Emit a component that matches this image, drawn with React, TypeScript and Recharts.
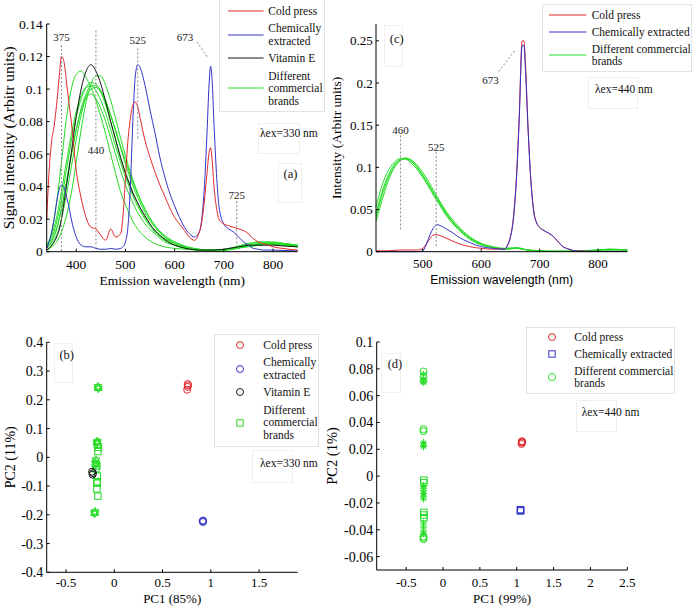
import React from "react";
import {
  LineChart,
  Line,
  ScatterChart,
  Scatter,
  XAxis,
  YAxis,
  ReferenceLine,
  ReferenceDot,
} from "recharts";

const SERIF = "'Liberation Serif', 'Times New Roman', Times, serif";
const SANS = "'Liberation Sans', Arial, sans-serif";

const RED = "#e3282c";
const BLUE = "#3232c8";
const BLACK = "#161616";
const GREEN = "#24dc24";
const DASH = "#8a8a8a";

// ---- panel (a): excitation 330 nm ----
const WL_A = [
  340, 345, 350, 355, 360, 365, 370, 375, 380, 385, 390, 400, 410, 420, 430, 440, 450, 460, 470, 480, 490, 495,
  500, 505, 510, 515, 520, 525, 530, 540, 550, 560, 570, 580, 590, 600, 610, 620, 630, 640, 650, 655, 660, 665,
  670, 673, 676, 680, 685, 690, 700, 710, 720, 730, 740, 750, 760, 770, 780, 790, 800, 820, 850,
];
const COLD_A = [
  0.02, 0.05, 0.068, 0.077, 0.09, 0.106, 0.12, 0.117, 0.105, 0.092, 0.08, 0.05, 0.033, 0.021, 0.015, 0.014, 0.01,
  0.007, 0.014, 0.009, 0.011, 0.022, 0.045, 0.068, 0.082, 0.09, 0.092, 0.089, 0.082, 0.068, 0.058, 0.049, 0.041,
  0.034, 0.027, 0.021, 0.017, 0.013, 0.009, 0.007, 0.012, 0.018, 0.03, 0.046, 0.061, 0.064, 0.057, 0.04, 0.027,
  0.02, 0.017, 0.016, 0.015, 0.014, 0.013, 0.011, 0.008, 0.006, 0.005, 0.004, 0.003, 0.002, 0.001,
];
const CHEM_A = [
  0.002, 0.006, 0.012, 0.02, 0.03, 0.038, 0.041, 0.04, 0.034, 0.028, 0.02, 0.009, 0.004, 0.003, 0.003, 0.002,
  0.0015, 0.0015, 0.002, 0.0015, 0.002, 0.003, 0.006, 0.015, 0.04, 0.08, 0.108, 0.115, 0.113, 0.102, 0.087, 0.073,
  0.058, 0.046, 0.036, 0.028, 0.021, 0.015, 0.011, 0.009, 0.012, 0.02, 0.038, 0.068, 0.103, 0.114, 0.106, 0.078,
  0.048, 0.028, 0.017, 0.014, 0.012, 0.009, 0.006, 0.004, 0.002, 0.0015, 0.001, 0.001, 0.001, 0.0008, 0.0005,
];
const VITE_A = [
  0.001, 0.002, 0.004, 0.006, 0.009, 0.013, 0.02, 0.03, 0.04, 0.05, 0.061, 0.083, 0.1, 0.111, 0.115, 0.111, 0.103,
  0.092, 0.08, 0.069, 0.058, 0.053, 0.048, 0.044, 0.04, 0.036, 0.033, 0.03, 0.027, 0.022, 0.017, 0.013, 0.01,
  0.0075, 0.0055, 0.004, 0.003, 0.0022, 0.0016, 0.0012, 0.001, 0.001, 0.001, 0.001, 0.001, 0.001, 0.001, 0.001,
  0.0011, 0.0012, 0.0015, 0.002, 0.0025, 0.003, 0.0035, 0.004, 0.004, 0.004, 0.004, 0.004, 0.004, 0.0035, 0.003,
];
const WL_AG = [
  340, 350, 360, 370, 380, 390, 400, 410, 420, 430, 440, 450, 460, 470, 480, 490, 500, 520, 540, 560, 580, 600,
  625, 650, 675, 700, 725, 750, 775, 800, 825, 850,
];
const BRANDS_A = [
  [0.004, 0.012, 0.03, 0.055, 0.082, 0.1, 0.109, 0.111, 0.107, 0.101, 0.093, 0.083, 0.072, 0.06, 0.048, 0.037, 0.029,
    0.016, 0.009, 0.005, 0.003, 0.002, 0.0015, 0.001, 0.0008, 0.001, 0.003, 0.005, 0.006, 0.0055, 0.004, 0.003],
  [0.001, 0.003, 0.006, 0.012, 0.022, 0.036, 0.055, 0.075, 0.092, 0.103, 0.108, 0.108, 0.102, 0.093, 0.082, 0.07,
    0.059, 0.04, 0.026, 0.016, 0.009, 0.005, 0.002, 0.001, 0.0005, 0.001, 0.002, 0.004, 0.005, 0.0055, 0.005, 0.004],
  [0.002, 0.006, 0.014, 0.027, 0.043, 0.06, 0.075, 0.087, 0.095, 0.097, 0.094, 0.088, 0.08, 0.07, 0.06, 0.05, 0.041,
    0.027, 0.017, 0.011, 0.006, 0.004, 0.002, 0.001, 0.001, 0.001, 0.002, 0.004, 0.005, 0.005, 0.004, 0.003],
  [0.003, 0.008, 0.018, 0.032, 0.05, 0.068, 0.083, 0.094, 0.101, 0.104, 0.103, 0.098, 0.09, 0.08, 0.069, 0.058,
    0.049, 0.033, 0.021, 0.013, 0.008, 0.005, 0.0025, 0.0012, 0.001, 0.0012, 0.0025, 0.004, 0.0045, 0.0045, 0.004, 0.003],
  [0.002, 0.006, 0.014, 0.026, 0.042, 0.059, 0.075, 0.088, 0.097, 0.102, 0.102, 0.099, 0.093, 0.084, 0.074, 0.064,
    0.054, 0.037, 0.024, 0.015, 0.009, 0.006, 0.003, 0.0015, 0.001, 0.001, 0.002, 0.0035, 0.0045, 0.005, 0.0045, 0.004],
  [0.004, 0.01, 0.021, 0.037, 0.055, 0.072, 0.086, 0.096, 0.101, 0.102, 0.099, 0.093, 0.085, 0.075, 0.065, 0.055,
    0.046, 0.031, 0.02, 0.012, 0.007, 0.004, 0.002, 0.001, 0.001, 0.0015, 0.003, 0.005, 0.006, 0.006, 0.005, 0.004],
  [0.001, 0.004, 0.01, 0.02, 0.035, 0.052, 0.069, 0.084, 0.095, 0.1, 0.101, 0.098, 0.092, 0.084, 0.075, 0.065,
    0.056, 0.039, 0.026, 0.016, 0.01, 0.006, 0.003, 0.0015, 0.001, 0.001, 0.002, 0.003, 0.004, 0.0045, 0.004, 0.0035],
];

// ---- panel (c): excitation 440 nm ----
const WL_C = [
  420, 440, 460, 470, 480, 490, 500, 505, 510, 515, 520, 525, 530, 540, 550, 560, 580, 600, 620, 640, 645, 650,
  655, 660, 665, 670, 673, 676, 680, 685, 690, 695, 700, 710, 720, 725, 730, 740, 750, 760, 780, 800, 850,
];
const COLD_C = [
  0.001, 0.001, 0.002, 0.002, 0.002, 0.002, 0.004, 0.008, 0.013, 0.018, 0.02, 0.02, 0.019, 0.016, 0.013, 0.01,
  0.006, 0.004, 0.003, 0.003, 0.008, 0.018, 0.04, 0.085, 0.16, 0.25, 0.25, 0.22, 0.15, 0.085, 0.048, 0.034, 0.029,
  0.024, 0.02, 0.017, 0.013, 0.006, 0.003, 0.001, 0.0005, 0.0003, 0.0003,
];
const CHEM_C = [
  0, 0, 0, 0, 0, 0, 0.001, 0.007, 0.016, 0.024, 0.03, 0.032, 0.031, 0.027, 0.023, 0.018, 0.011, 0.006, 0.004,
  0.003, 0.007, 0.017, 0.038, 0.082, 0.155, 0.244, 0.245, 0.212, 0.148, 0.084, 0.047, 0.034, 0.029, 0.024, 0.02,
  0.017, 0.013, 0.006, 0.003, 0.001, 0.0005, 0.0003, 0.0003,
];
const WL_CG = [
  420, 430, 440, 450, 460, 470, 480, 490, 500, 510, 520, 530, 540, 560, 580, 600, 620, 640, 660, 680, 700, 720,
  740, 760, 780, 800, 820, 850,
];
const BRANDS_C = [
  [0.053, 0.078, 0.095, 0.105, 0.11, 0.11, 0.105, 0.098, 0.088, 0.077, 0.065, 0.054, 0.043, 0.027, 0.015, 0.008,
    0.005, 0.003, 0.004, 0.002, 0.001, 0.0005, 0.0005, 0.0005, 0.001, 0.002, 0.002, 0.002],
  [0.045, 0.07, 0.089, 0.102, 0.109, 0.111, 0.108, 0.101, 0.091, 0.08, 0.068, 0.057, 0.046, 0.029, 0.017, 0.009,
    0.005, 0.003, 0.004, 0.002, 0.001, 0.0005, 0.0005, 0.0005, 0.001, 0.002, 0.003, 0.002],
  [0.036, 0.06, 0.082, 0.098, 0.107, 0.111, 0.109, 0.103, 0.094, 0.083, 0.071, 0.059, 0.048, 0.031, 0.018, 0.01,
    0.006, 0.004, 0.005, 0.002, 0.001, 0.0005, 0.0005, 0.001, 0.0015, 0.002, 0.003, 0.002],
  [0.041, 0.066, 0.086, 0.1, 0.108, 0.11, 0.107, 0.1, 0.09, 0.079, 0.067, 0.056, 0.045, 0.028, 0.016, 0.009,
    0.005, 0.003, 0.004, 0.002, 0.001, 0.0005, 0.0005, 0.0005, 0.001, 0.0015, 0.002, 0.002],
];

// ---- panel (b): PCA scores, 330 nm ----
const COLD_B = [[0.76, 0.255], [0.765, 0.25], [0.755, 0.235], [0.76, 0.245]];
const CHEM_B = [[0.92, -0.22], [0.92, -0.225], [0.915, -0.222]];
const VITE_B = [[-0.23, -0.05], [-0.225, -0.06], [-0.22, -0.055]];
const BRANDS_B_SQ = [
  [-0.165, 0.035], [-0.17, 0.02], [-0.175, 0.045], [-0.18, -0.03], [-0.19, -0.04], [-0.175, -0.065],
  [-0.18, -0.085], [-0.175, -0.09], [-0.18, -0.11], [-0.17, -0.135],
];
const BRANDS_B_STAR = [
  [-0.17, 0.245], [-0.165, 0.24], [-0.175, 0.055], [-0.18, 0.05], [-0.19, -0.01], [-0.195, -0.02],
  [-0.19, -0.025], [-0.2, -0.19], [-0.205, -0.195],
];

// ---- panel (d): PCA scores, 440 nm ----
const COLD_D = [[1.07, 0.026], [1.07, 0.025], [1.065, 0.024], [1.075, 0.0255]];
const CHEM_D = [[1.05, -0.025], [1.05, -0.026], [1.055, -0.0255]];
const BRANDS_D_CIRCLE = [
  [-0.265, 0.078], [-0.265, 0.074], [-0.265, 0.071], [-0.265, 0.035], [-0.265, 0.0335], [-0.265, -0.045],
  [-0.265, -0.046], [-0.265, -0.047],
];
const BRANDS_D_SQ = [[-0.26, -0.003], [-0.26, -0.005], [-0.26, -0.027], [-0.26, -0.029], [-0.26, -0.031]];
const BRANDS_D_AST = [
  [-0.265, 0.076], [-0.265, 0.072], [-0.265, 0.07], [-0.265, 0.025], [-0.265, 0.023], [-0.265, 0.022],
  [-0.265, -0.007], [-0.265, -0.009], [-0.265, -0.011], [-0.265, -0.013], [-0.265, -0.015], [-0.265, -0.017],
  [-0.265, -0.035], [-0.265, -0.038], [-0.265, -0.041], [-0.265, -0.043],
];

// ticks
const A_XTICKS = [400, 500, 600, 700, 800];
const A_YTICKS = [0, 0.02, 0.04, 0.06, 0.08, 0.1, 0.12, 0.14];
const C_XTICKS = [500, 600, 700, 800];
const C_YTICKS = [0, 0.05, 0.1, 0.15, 0.2, 0.25];
const B_XTICKS = [-0.5, 0, 0.5, 1, 1.5];
const B_YTICKS = [-0.4, -0.3, -0.2, -0.1, 0, 0.1, 0.2, 0.3, 0.4];
const D_XTICKS = [-0.5, 0, 0.5, 1, 1.5, 2, 2.5];
const D_YTICKS = [-0.06, -0.04, -0.02, 0, 0.02, 0.04, 0.06, 0.08, 0.1];

// peak annotations: label text + position in data units, guide segments [x1, y1, x2, y2]
const A_NOTES = [
  { text: "375", x: 370, y: 0.1322 },
  { text: "440", x: 440, y: 0.0626 },
  { text: "525", x: 525, y: 0.13 },
  { text: "673", x: 621, y: 0.132 },
  { text: "725", x: 726, y: 0.0349 },
];
const A_GUIDES = [
  [370, 0.127, 370, 0],
  [440, 0.136, 440, 0.067],
  [440, 0.05, 440, 0.0023],
  [525, 0.125, 525, 0.0687],
  [645, 0.129, 668, 0.119],
  [726, 0.031, 726, 0.003],
];
const C_NOTES = [
  { text: "460", x: 462, y: 0.1445 },
  { text: "525", x: 523, y: 0.124 },
  { text: "673", x: 616, y: 0.204 },
];
const C_GUIDES = [
  [462, 0.1378, 462, 0.0265],
  [523, 0.118, 523, 0.006],
  [630, 0.2137, 659, 0.24],
];

const zip = (xs: number[], ys: number[]) => xs.map((x, i) => ({ x, y: ys[i] }));
const pairs = (arr: number[][]) => arr.map(([x, y]) => ({ x, y }));

const axisStyle = (fontSize: number, family = SERIF) => ({
  axisLine: { stroke: "#000" },
  tickLine: { stroke: "#000" },
  tickSize: -3,
  tick: { fontSize, fill: "#000", fontFamily: family },
});

const circleShape = (color: string) => (p: any) => (
  <circle cx={p.cx} cy={p.cy} r={3.5} fill="none" stroke={color} strokeWidth={1} />
);
const squareShape = (color: string) => (p: any) => (
  <rect x={p.cx - 3.2} y={p.cy - 3.2} width={6.4} height={6.4} fill="none" stroke={color} strokeWidth={1} />
);
const asteriskShape = (color: string) => (p: any) => (
  <path
    d={`M${p.cx - 3.5},${p.cy}h7M${p.cx},${p.cy - 3.5}v7M${p.cx - 2.5},${p.cy - 2.5}l5,5M${p.cx - 2.5},${p.cy + 2.5}l5,-5`}
    stroke={color}
    strokeWidth={1}
  />
);
const hexagramShape = (color: string) => (p: any) => (
  <g fill="none" stroke={color} strokeWidth={1}>
    <polygon points={`${p.cx},${p.cy - 4.5} ${p.cx + 3.9},${p.cy + 2.2} ${p.cx - 3.9},${p.cy + 2.2}`} />
    <polygon points={`${p.cx},${p.cy + 4.5} ${p.cx + 3.9},${p.cy - 2.2} ${p.cx - 3.9},${p.cy - 2.2}`} />
  </g>
);

type LegendItem = { lines: string[]; color: string; mark: "line" | "circle" | "square"; cy: number };

function LegendBox(props: {
  left: number;
  top: number;
  width: number;
  height: number;
  markX: number;
  markW: number;
  textX: number;
  lineH: number;
  items: LegendItem[];
}) {
  const { left, top, width, height, markX, markW, textX, lineH, items } = props;
  return (
    <>
      <div
        style={{
          position: "absolute",
          left,
          top,
          width,
          height,
          border: "1px solid #e2e2e2",
          background: "#fff",
          boxSizing: "border-box",
        }}
      />
      {items.map((it) => (
        <React.Fragment key={it.lines.join(" ")}>
          <svg
            style={{ position: "absolute", left: markX - 5, top: it.cy - 6, overflow: "visible" }}
            width={markW + 10}
            height={12}
          >
            {it.mark === "line" && <line x1={5} x2={5 + markW} y1={6} y2={6} stroke={it.color} strokeWidth={1} />}
            {it.mark === "circle" && <circle cx={5} cy={6} r={3.5} fill="none" stroke={it.color} />}
            {it.mark === "square" && <rect x={1.8} y={2.8} width={6.4} height={6.4} fill="none" stroke={it.color} />}
          </svg>
          <div
            style={{
              position: "absolute",
              left: textX,
              top: it.cy - (it.lines.length * lineH) / 2,
              fontFamily: SERIF,
              fontSize: 11.5,
              lineHeight: `${lineH}px`,
              color: "#111",
              whiteSpace: "nowrap",
            }}
          >
            {it.lines.map((l) => (
              <div key={l}>{l}</div>
            ))}
          </div>
        </React.Fragment>
      ))}
    </>
  );
}

function TextBox(props: { left: number; top: number; width: number; height: number; text: string; tx: number; ty: number; center?: boolean; size?: number }) {
  const { left, top, width, height, text, tx, ty, center, size = 11.5 } = props;
  return (
    <>
      <div
        style={{ position: "absolute", left, top, width, height, border: "1px solid #efefef", boxSizing: "border-box" }}
      />
      <div
        style={{
          position: "absolute",
          left: center ? tx - 20 : tx,
          width: center ? 40 : undefined,
          textAlign: center ? "center" : "left",
          top: ty - 8,
          lineHeight: "16px",
          fontFamily: SERIF,
          fontSize: size,
          color: "#111",
          whiteSpace: "nowrap",
        }}
      >
        {text}
      </div>
    </>
  );
}

const noteLabel = (text: string) => ({
  value: text,
  position: "center" as const,
  fontSize: 11,
  fill: "#222",
  fontFamily: SERIF,
});

export default function App() {
  return (
    <div style={{ position: "absolute", left: 0, top: 0, width: 693, height: 606, background: "#fff", overflow: "hidden" }}>
      {/* (a) */}
      <div style={{ position: "absolute", left: 0, top: 0 }}>
        <LineChart width={330} height={300} margin={{ top: 24, right: 32.3, bottom: 12.3, left: 0 }}>
          <XAxis
            type="number"
            dataKey="x"
            domain={[340, 850]}
            ticks={A_XTICKS}
            height={36}
            tickMargin={10.4}
            {...axisStyle(13.5)}
            label={{ value: "Emission wavelength (nm)", position: "insideBottom", offset: 3, fontSize: 13.5, fill: "#000", fontFamily: SERIF }}
          />
          <YAxis
            type="number"
            dataKey="y"
            domain={[0, 0.14]}
            ticks={A_YTICKS}
            width={46.7}
            tickMargin={7}
            {...axisStyle(13.5)}
            label={{ value: "Signal intensity (Arbitr units)", angle: -90, position: "insideLeft", offset: 8.3, style: { textAnchor: "middle" }, fontSize: 15.5, fill: "#000", fontFamily: SERIF }}
          />
          {BRANDS_A.map((ys, i) => (
            <Line key={"ga" + i} data={zip(WL_AG, ys)} dataKey="y" type="monotone" stroke={GREEN} strokeWidth={1} dot={false} isAnimationActive={false} />
          ))}
          <Line data={zip(WL_A, VITE_A)} dataKey="y" type="monotone" stroke={BLACK} strokeWidth={1} dot={false} isAnimationActive={false} />
          <Line data={zip(WL_A, CHEM_A)} dataKey="y" type="monotone" stroke={BLUE} strokeWidth={1} dot={false} isAnimationActive={false} />
          <Line data={zip(WL_A, COLD_A)} dataKey="y" type="monotone" stroke={RED} strokeWidth={1} dot={false} isAnimationActive={false} />
          {A_GUIDES.map((g, i) => (
            <ReferenceLine key={"gda" + i} segment={[{ x: g[0], y: g[1] }, { x: g[2], y: g[3] }]} stroke={DASH} strokeDasharray="2 2" />
          ))}
          {A_NOTES.map((n) => (
            <ReferenceDot key={"na" + n.text} x={n.x} y={n.y} r={0} fill="none" stroke="none" label={noteLabel(n.text)} />
          ))}
        </LineChart>
      </div>

      {/* (c) */}
      <div style={{ position: "absolute", left: 318, top: 0 }}>
        <LineChart width={375} height={300} margin={{ top: 24, right: 65.7, bottom: 12.3, left: 0 }}>
          <XAxis
            type="number"
            dataKey="x"
            domain={[420, 850]}
            ticks={C_XTICKS}
            height={36}
            tickMargin={10.4}
            {...axisStyle(13)}
            label={{ value: "Emission wavelength (nm)", position: "insideBottom", offset: 3.3, fontSize: 12.2, fill: "#000", fontFamily: SANS }}
          />
          <YAxis
            type="number"
            dataKey="y"
            domain={[0, 0.27]}
            ticks={C_YTICKS}
            width={58}
            tickMargin={6.3}
            {...axisStyle(13)}
            label={{ value: "Intensity (Arbitr units)", angle: -90, position: "insideLeft", offset: 18.7, style: { textAnchor: "middle" }, fontSize: 13.5, fill: "#000", fontFamily: SERIF }}
          />
          {BRANDS_C.map((ys, i) => (
            <Line key={"gc" + i} data={zip(WL_CG, ys)} dataKey="y" type="monotone" stroke={GREEN} strokeWidth={1} dot={false} isAnimationActive={false} />
          ))}
          <Line data={zip(WL_C, COLD_C)} dataKey="y" type="monotone" stroke={RED} strokeWidth={1} dot={false} isAnimationActive={false} />
          <Line data={zip(WL_C, CHEM_C)} dataKey="y" type="monotone" stroke={BLUE} strokeWidth={1} dot={false} isAnimationActive={false} />
          {C_GUIDES.map((g, i) => (
            <ReferenceLine key={"gdc" + i} segment={[{ x: g[0], y: g[1] }, { x: g[2], y: g[3] }]} stroke={DASH} strokeDasharray="2 2" />
          ))}
          {C_NOTES.map((n) => (
            <ReferenceDot key={"nc" + n.text} x={n.x} y={n.y} r={0} fill="none" stroke="none" label={noteLabel(n.text)} />
          ))}
        </LineChart>
      </div>

      {/* (b) */}
      <div style={{ position: "absolute", left: 0, top: 300 }}>
        <ScatterChart width={330} height={306} margin={{ top: 42.3, right: 32.3, bottom: 0, left: 0 }}>
          <XAxis
            type="number"
            dataKey="x"
            domain={[-0.7, 1.9]}
            ticks={B_XTICKS}
            height={33.7}
            tickMargin={8}
            {...axisStyle(13)}
            label={{ value: "PC1 (85%)", position: "insideBottom", offset: 3, fontSize: 13, fill: "#000", fontFamily: SERIF }}
          />
          <YAxis
            type="number"
            dataKey="y"
            domain={[-0.4, 0.4]}
            ticks={B_YTICKS}
            width={46.7}
            tickMargin={6.4}
            {...axisStyle(14)}
            label={{ value: "PC2 (11%)", angle: -90, position: "insideLeft", offset: 10, style: { textAnchor: "middle" }, fontSize: 14, fill: "#000", fontFamily: SERIF }}
          />
          <Scatter data={pairs(BRANDS_B_SQ)} shape={squareShape(GREEN)} isAnimationActive={false} />
          <Scatter data={pairs(BRANDS_B_STAR)} shape={hexagramShape(GREEN)} isAnimationActive={false} />
          <Scatter data={pairs(VITE_B)} shape={circleShape(BLACK)} isAnimationActive={false} />
          <Scatter data={pairs(COLD_B)} shape={circleShape(RED)} isAnimationActive={false} />
          <Scatter data={pairs(CHEM_B)} shape={circleShape(BLUE)} isAnimationActive={false} />
        </ScatterChart>
      </div>

      {/* (d) */}
      <div style={{ position: "absolute", left: 318, top: 300 }}>
        <ScatterChart width={375} height={306} margin={{ top: 42, right: 65.7, bottom: 0, left: 0 }}>
          <XAxis
            type="number"
            dataKey="x"
            domain={[-0.9, 2.5]}
            ticks={D_XTICKS}
            height={36}
            tickMargin={10.8}
            {...axisStyle(13)}
            label={{ value: "PC1 (99%)", position: "insideBottom", offset: 3, fontSize: 13, fill: "#000", fontFamily: SERIF }}
          />
          <YAxis
            type="number"
            dataKey="y"
            domain={[-0.07, 0.1]}
            ticks={D_YTICKS}
            width={58.7}
            tickMargin={6.5}
            {...axisStyle(14)}
            label={{ value: "PC2 (1%)", angle: -90, position: "insideLeft", offset: 13.7, style: { textAnchor: "middle" }, fontSize: 14.5, fill: "#000", fontFamily: SERIF }}
          />
          <Scatter data={pairs(BRANDS_D_AST)} shape={asteriskShape(GREEN)} isAnimationActive={false} />
          <Scatter data={pairs(BRANDS_D_SQ)} shape={squareShape(GREEN)} isAnimationActive={false} />
          <Scatter data={pairs(BRANDS_D_CIRCLE)} shape={circleShape(GREEN)} isAnimationActive={false} />
          <Scatter data={pairs(COLD_D)} shape={circleShape(RED)} isAnimationActive={false} />
          <Scatter data={pairs(CHEM_D)} shape={squareShape(BLUE)} isAnimationActive={false} />
        </ScatterChart>
      </div>

      {/* legends */}
      <LegendBox
        left={219.3}
        top={-2}
        width={105.7}
        height={113.7}
        markX={227.7}
        markW={35.6}
        textX={268.3}
        lineH={12.4}
        items={[
          { lines: ["Cold press"], color: RED, mark: "line", cy: 11 },
          { lines: ["Chemically", "extracted"], color: BLUE, mark: "line", cy: 34.5 },
          { lines: ["Vitamin E"], color: BLACK, mark: "line", cy: 58.3 },
          { lines: ["Different", "commercial", "brands"], color: GREEN, mark: "line", cy: 88.3 },
        ]}
      />
      <LegendBox
        left={542.3}
        top={4}
        width={150}
        height={68.3}
        markX={549.3}
        markW={37.4}
        textX={591.7}
        lineH={12}
        items={[
          { lines: ["Cold press"], color: RED, mark: "line", cy: 15 },
          { lines: ["Chemically extracted"], color: BLUE, mark: "line", cy: 32.3 },
          { lines: ["Different commercial", "brands"], color: GREEN, mark: "line", cy: 55 },
        ]}
      />
      <LegendBox
        left={214.3}
        top={334.3}
        width={105}
        height={112.4}
        markX={240}
        markW={0}
        textX={263.3}
        lineH={12.5}
        items={[
          { lines: ["Cold press"], color: RED, mark: "circle", cy: 345 },
          { lines: ["Chemically", "extracted"], color: BLUE, mark: "circle", cy: 368.7 },
          { lines: ["Vitamin E"], color: BLACK, mark: "circle", cy: 392.3 },
          { lines: ["Different", "commercial", "brands"], color: GREEN, mark: "square", cy: 422.5 },
        ]}
      />
      <LegendBox
        left={525.7}
        top={326.7}
        width={149.3}
        height={67.6}
        markX={551.7}
        markW={0}
        textX={574.3}
        lineH={12.3}
        items={[
          { lines: ["Cold press"], color: RED, mark: "circle", cy: 337.3 },
          { lines: ["Chemically extracted"], color: BLUE, mark: "square", cy: 354 },
          { lines: ["Different commercial", "brands"], color: GREEN, mark: "circle", cy: 377.2 },
        ]}
      />

      {/* panel tags and excitation notes */}
      <TextBox left={258.3} top={123.3} width={41.7} height={30.7} text="λex=330 nm" tx={260} ty={133.3} />
      <TextBox left={278} top={163} width={23.7} height={40} text="(a)" tx={290.5} ty={174} center size={12.5} />
      <TextBox left={384.3} top={25} width={19} height={41.7} text="(c)" tx={396.7} ty={39} center size={12.5} />
      <TextBox left={588.3} top={77.3} width={49.4} height={32} text="λex=440 nm" tx={595} ty={89.3} />
      <TextBox left={54.3} top={343.3} width={19} height={40} text="(b)" tx={66.7} ty={355} center size={12.5} />
      <TextBox left={252.3} top={450} width={41} height={32.7} text="λex=330 nm" tx={260} ty={463.3} />
      <TextBox left={381} top={353.3} width={19.7} height={39.4} text="(d)" tx={395} ty={364.3} center size={12.5} />
      <TextBox left={576} top={400} width={40.7} height={32.3} text="λex=440 nm" tx={581.7} ty={411.7} />
    </div>
  );
}
